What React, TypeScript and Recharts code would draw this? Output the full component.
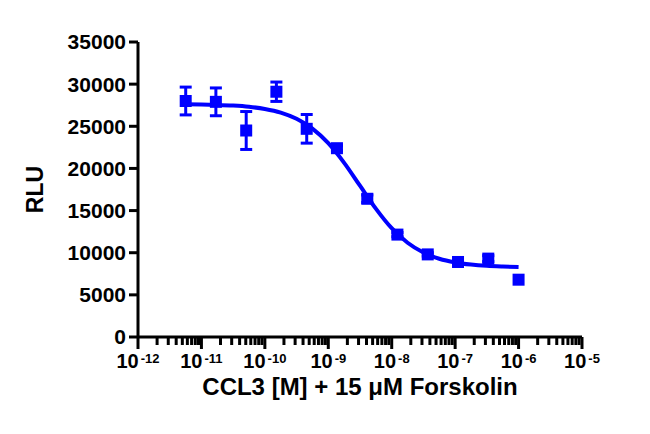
import React from 'react';
import { ComposedChart, XAxis, YAxis, Scatter, Line, ErrorBar, Label } from 'recharts';

// Measured points: concentration [M], mean RLU, error (SEM)
const concentrations = [5.65e-12, 1.69e-11, 5.08e-11, 1.52e-10, 4.57e-10, 1.37e-9, 4.12e-9, 1.23e-8, 3.7e-8, 1.11e-7, 3.33e-7, 1e-6];
const rluMean = [28000, 27900, 24500, 29100, 24700, 22400, 16400, 12150, 9800, 8900, 9300, 6800];
const rluError = [1650, 1650, 2250, 1150, 1700, 300, 450, 250, 200, 200, 350, 0];

// Fitted curve
const fitConc = [5.62e-12, 1e-11, 1.78e-11, 3.16e-11, 5.62e-11, 1e-10, 1.78e-10, 3.16e-10, 5.62e-10, 1e-9, 1.78e-9, 3.16e-9, 5.62e-9, 1e-8, 1.78e-8, 3.16e-8, 5.62e-8, 1e-7, 1.78e-7, 3.16e-7, 5.62e-7, 1e-6];
const fitRlu = [27615, 27590, 27540, 27455, 27310, 27055, 26620, 25885, 24720, 22995, 20665, 17950, 15235, 12905, 11180, 10015, 9280, 8845, 8590, 8440, 8360, 8310];

// Axis ticks
const xMajorExponents = [-12, -11, -10, -9, -8, -7, -6, -5];
const xMinorMultipliers = [2, 3, 4, 5, 6, 7, 8, 9];
const yTicks = [0, 5000, 10000, 15000, 20000, 25000, 30000, 35000];

const BLUE = '#0000FF';
const FONT = '"Liberation Sans", Arial, sans-serif';

const points = concentrations.map((x, i) => ({ x, y: rluMean[i], err: rluError[i] }));
const fit = fitConc.map((x, i) => ({ x, y: fitRlu[i] }));

const xTicks: number[] = [];
xMajorExponents.forEach((e, idx) => {
  xTicks.push(Math.pow(10, e));
  if (idx < xMajorExponents.length - 1) {
    xMinorMultipliers.forEach((m) => xTicks.push(m * Math.pow(10, e)));
  }
});

const XTick = (props: any) => {
  const { x, y, payload } = props;
  const v = payload.value;
  const lg = Math.log10(v);
  const e = Math.round(lg);
  const major = Math.abs(lg - e) < 1e-6;
  return (
    <g>
      <line x1={x} x2={x} y1={y} y2={y + (major ? 12 : 8)} stroke="#000" strokeWidth={3} />
      {major && (
        <text x={x} y={y + 31} textAnchor="middle" fontFamily={FONT} fontWeight={700} fontSize={20} fill="#000">
          <tspan>10</tspan>
          <tspan fontSize={13} dy={-5} dx={2}>{String(e)}</tspan>
        </text>
      )}
    </g>
  );
};

const Square = (props: any) => {
  const { cx, cy } = props;
  if (cx == null || cy == null) return null;
  return <rect x={cx - 6} y={cy - 6} width={12} height={12} fill={BLUE} />;
};

export default function App() {
  return (
    <div style={{ width: 650, height: 434, background: '#fff' }}>
      <style>{'body{margin:0;}'}</style>
      <ComposedChart width={650} height={434} margin={{ top: 42, right: 68, bottom: 0, left: 0 }}>
        <XAxis
          dataKey="x"
          type="number"
          scale="log"
          domain={[1e-12, 1e-5]}
          allowDataOverflow
          ticks={xTicks}
          interval={0}
          tick={<XTick />}
          tickLine={false}
          tickSize={0}
          tickMargin={0}
          height={97}
          axisLine={{ stroke: '#000', strokeWidth: 3 }}
        >
          <Label
            content={(p: any) => {
              const vb = p.viewBox;
              return (
                <text x={vb.x + vb.width / 2} y={vb.y + 58} textAnchor="middle" fontFamily={FONT} fontWeight={700} fontSize={24} fill="#000">
                  CCL3 [M] + 15 μM Forskolin
                </text>
              );
            }}
          />
        </XAxis>
        <YAxis
          dataKey="y"
          type="number"
          domain={[0, 35000]}
          ticks={yTicks}
          interval={0}
          width={138}
          tickSize={9}
          tickMargin={3}
          tick={{ fontFamily: FONT, fontWeight: 700, fontSize: 21, fill: '#000' }}
          tickLine={{ stroke: '#000', strokeWidth: 3 }}
          axisLine={{ stroke: '#000', strokeWidth: 3 }}
        >
          <Label
            content={(p: any) => {
              const vb = p.viewBox;
              const cx = vb.x + 35;
              const cy = vb.y + vb.height / 2;
              return (
                <text x={cx} y={cy} transform={`rotate(-90 ${cx} ${cy})`} textAnchor="middle" dominantBaseline="central" fontFamily={FONT} fontWeight={700} fontSize={23} fill="#000">
                  RLU
                </text>
              );
            }}
          />
        </YAxis>
        <Line data={fit} dataKey="y" type="monotone" stroke={BLUE} strokeWidth={4} dot={false} activeDot={false} isAnimationActive={false} />
        <Scatter data={points} dataKey="y" fill={BLUE} shape={<Square />} isAnimationActive={false}>
          <ErrorBar dataKey="err" direction="y" width={6} stroke={BLUE} strokeWidth={3} isAnimationActive={false} />
        </Scatter>
      </ComposedChart>
    </div>
  );
}
